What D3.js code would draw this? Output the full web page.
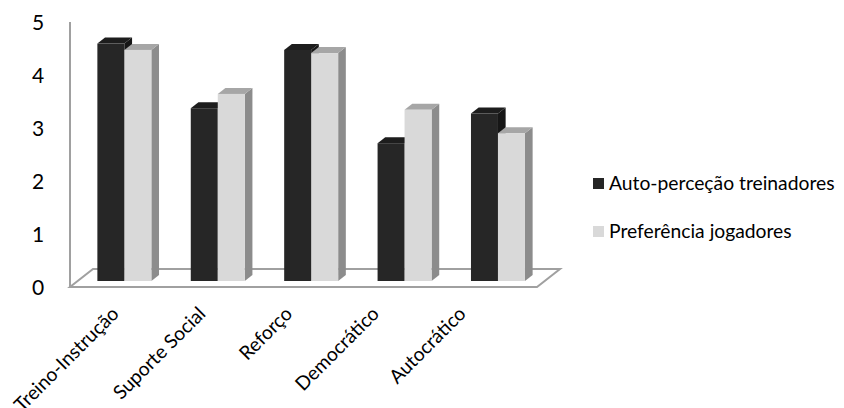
<!DOCTYPE html>
<html>
<head>
<meta charset="utf-8">
<script src="https://cdn.jsdelivr.net/npm/d3@7"></script>
<style>
  html, body { margin: 0; padding: 0; background: #fff; }
  svg { display: block; font-family: Lato, "Open Sans", sans-serif; }
</style>
</head>
<body>
<svg id="chart" width="844" height="408"></svg>
<script>
// Leadership dimensions (categories)
const categories = ["Treino-Instrução", "Suporte Social", "Reforço", "Democrático", "Autocrático"];
// Series names
const seriesNames = ["Auto-perceção treinadores", "Preferência jogadores"];
// Mean scores per dimension
const autoPercecao = [4.48, 3.26, 4.36, 2.60, 3.16];
const preferencia  = [4.36, 3.53, 4.30, 3.23, 2.79];
// Value axis ticks
const yTicks = [0, 1, 2, 3, 4, 5];

const seriesValues = [autoPercecao, preferencia];

const svg = d3.select("#chart");

// Front plane of the plot box
const plotLeft = 70, plotRight = 537, plotBottom = 287, plotTop = 22;
// Depth vector of the floor (oblique projection)
const depth = { dx: 23, dy: -18 };
// Columns occupy the middle third of the floor depth
const d0 = 1 / 3, d1 = 2 / 3;

const x0 = d3.scaleBand().domain(categories).range([plotLeft, plotRight])
  .paddingInner(0.422).paddingOuter(0.211);
const x1 = d3.scaleBand().domain(seriesNames).range([0, x0.bandwidth()]);
const y = d3.scaleLinear().domain([0, 5]).range([plotBottom, plotTop]);

const styles = [
  { front: "#262626", top: "#1d1d1d", side: "#161616" },
  { front: "#d9d9d9", top: "#a6a6a6", side: "#8c8c8c" }
];

const pts = arr => arr.map(p => p.join(",")).join(" ");

// Floor
svg.append("polygon")
  .attr("points", pts([
    [plotLeft, plotBottom], [plotRight, plotBottom],
    [plotRight + depth.dx, plotBottom + depth.dy], [plotLeft + depth.dx, plotBottom + depth.dy]
  ]))
  .attr("fill", "#fff")
  .attr("stroke", "#a0a0a0")
  .attr("stroke-width", 2);

// Value axis line on the side wall edge
svg.append("line")
  .attr("x1", plotLeft).attr("x2", plotLeft)
  .attr("y1", y(0)).attr("y2", y(5))
  .attr("stroke", "#a0a0a0").attr("stroke-width", 2);

// Columns
const ox0 = depth.dx * d0, oy0 = depth.dy * d0;
const ox1 = depth.dx * d1, oy1 = depth.dy * d1;
const bars = svg.append("g");
categories.forEach((cat, i) => {
  seriesNames.forEach((s, j) => {
    const v = seriesValues[j][i];
    const xa = x0(cat) + x1(s) + ox0;
    const xb = xa + x1.bandwidth();
    const yb = y(0) + oy0;
    const yt = y(v) + oy0;
    const dx = ox1 - ox0, dy = oy1 - oy0;
    const g = bars.append("g");
    // right side face
    g.append("polygon")
      .attr("points", pts([[xb, yb], [xb + dx, yb + dy], [xb + dx, yt + dy], [xb, yt]]))
      .attr("fill", styles[j].side);
    // top face
    g.append("polygon")
      .attr("points", pts([[xa, yt], [xb, yt], [xb + dx, yt + dy], [xa + dx, yt + dy]]))
      .attr("fill", styles[j].top);
    // front face
    g.append("rect")
      .attr("x", xa).attr("y", yt)
      .attr("width", xb - xa).attr("height", yb - yt)
      .attr("fill", styles[j].front);
  });
});

// Value axis labels
svg.append("g").selectAll("text")
  .data(yTicks).join("text")
  .attr("x", 38)
  .attr("y", d => y(d) + 1)
  .attr("dy", "0.35em")
  .attr("text-anchor", "middle")
  .attr("font-size", 21)
  .attr("fill", "#000")
  .text(d => d);

// Category labels, rotated
const labelX = d3.scalePoint().domain(categories).range([120, 467]);
svg.append("g").selectAll("text")
  .data(categories).join("text")
  .attr("transform", d => `translate(${labelX(d)},315) rotate(-45)`)
  .attr("text-anchor", "end")
  .attr("font-size", 19.3)
  .attr("fill", "#000")
  .text(d => d);

// Legend
const legend = svg.append("g").attr("transform", "translate(593,178)");
seriesNames.forEach((s, j) => {
  const row = legend.append("g").attr("transform", `translate(0,${j * 48})`);
  row.append("rect").attr("width", 11).attr("height", 11).attr("fill", styles[j].front);
  row.append("text").attr("x", 16).attr("y", 11.5)
    .attr("font-size", 19.3).attr("fill", "#000").text(s);
});
</script>
</body>
</html>
